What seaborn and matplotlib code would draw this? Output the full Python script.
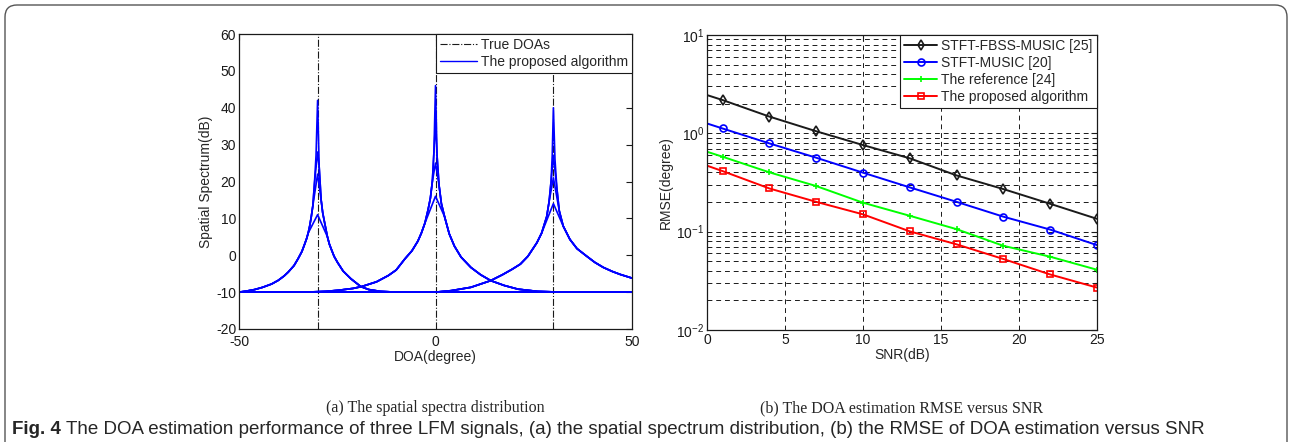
import matplotlib
matplotlib.use("Agg")
import matplotlib.pyplot as plt
from matplotlib.patches import FancyBboxPatch
import seaborn as sns
import pandas as pd

# (a) spatial spectra: one spectrum per source, several runs per source
true_doas = [-30, 0, 30]

a_doa = [-50, -48, -46, -44, -41.7, -40, -38.5, -37.5, -36, -35, -34, -33.3, -32.8, -32.4, -32, -31.6,
         -31.2, -30.8, -30.4, -29.6, -29.1, -28.7, -28.2, -27.5, -27, -26.5, -25.8, -24.9, -23.5, -21.5,
         -19, -17, -14, -10, 50]
a_db = [-10, -9.7, -9.3, -8.7, -7.8, -6.8, -5.6, -4.6, -2.8, -1, 1, 3, 4.5, 6, 8, 10.5,
        13.5, 19.5, 27, 24, 15, 11.5, 8.75, 5, 3, 1.6, -0.3, -2, -4.3, -6.4,
        -8.5, -9.3, -9.8, -10, -10]
a_peaks = [42, 28, 22, 11]

b_doa = [-50, -33, -28, -24.7, -21, -18.8, -15, -12, -10, -7.8, -6, -4.5, -3.6, -2.7, -1.9, -1.3,
         -0.8, -0.4, 0.4, 0.9, 1.5, 2.3, 3.5, 4.8, 6.5, 9, 11.5, 14.1, 17.5, 21, 26, 32, 50]
b_db = [-10, -10, -9.8, -9.5, -9, -8.5, -7.2, -5.5, -4, -1, 1.2, 3.8, 6, 8.7, 12.3, 15.5,
        20, 28, 27, 19, 14, 10.5, 5.8, 2.5, -0.5, -3.3, -5.3, -6.9, -8.2, -9.2, -9.8, -10, -10]
b_peaks = [46, 36, 25, 16]

c_doa = [-50, 0, 4, 9, 14, 17, 19.5, 21.6, 23.5, 25.8, 27, 28.3, 28.9, 29.4, 29.7,
         30.4, 30.9, 31.5, 32.5, 34.2, 36, 38.4, 40.5, 42.7, 45, 47, 50]
c_db = [-10, -10, -9.6, -8.7, -6.9, -5.3, -3.8, -2.4, -0.3, 3.4, 6, 10.5, 14.5, 20, 27,
        26, 18, 12, 7.9, 4.3, 1.8, -0.2, -1.9, -3.3, -4.4, -5.2, -6.2]
c_peaks = [40, 27, 21, 14]

# (b) RMSE versus SNR
snr = [0, 1, 4, 7, 10, 13, 16, 19, 22, 25]
rmse_fbss = [2.45, 2.18, 1.48, 1.05, 0.76, 0.557, 0.373, 0.271, 0.192, 0.135]
rmse_music = [1.26, 1.12, 0.79, 0.565, 0.398, 0.282, 0.201, 0.142, 0.105, 0.073]
rmse_ref = [0.65, 0.578, 0.401, 0.291, 0.197, 0.145, 0.106, 0.0718, 0.0556, 0.041]
rmse_prop = [0.469, 0.413, 0.275, 0.201, 0.15, 0.1007, 0.0743, 0.0527, 0.0367, 0.027]

sns.set_theme(style="white")
plt.rcParams['font.family'] = ['Liberation Sans', 'DejaVu Sans']
plt.rcParams['axes.unicode_minus'] = False
plt.rcParams['xtick.direction'] = 'in'
plt.rcParams['ytick.direction'] = 'in'

fig = plt.figure(figsize=(12.92, 4.42), dpi=100)
ax1 = fig.add_axes([239 / 1292, 1 - 329 / 442, 393 / 1292, 295 / 442])
ax2 = fig.add_axes([707 / 1292, 1 - 330 / 442, 390 / 1292, 295 / 442])

# build long table for the spectra; lower runs keep only the points below their own peak
rows = []
for src, (xs, ys, peaks, d0) in enumerate([(a_doa, a_db, a_peaks, -30),
                                            (b_doa, b_db, b_peaks, 0),
                                            (c_doa, c_db, c_peaks, 30)]):
    for k, pk in enumerate(peaks):
        pts = [(x, y) for x, y in zip(xs, ys) if y <= pk - 4] + [(d0, pk)]
        pts.sort()
        for xi, yi in pts:
            rows.append((f"{src}-{k}", xi, yi))
spec = pd.DataFrame(rows, columns=["run", "doa", "db"])

for d in true_doas:
    ax1.axvline(d, color="k", ls="-.", lw=0.8)
sns.lineplot(data=spec, x="doa", y="db", units="run", estimator=None, sort=False,
             color="#0000ff", lw=1.2, ax=ax1)
ax1.plot([], [], color="k", ls="-.", lw=0.8, label="True DOAs")
ax1.plot([], [], color="#0000ff", lw=1.0, label="The proposed algorithm")
ax1.set_xlim(-50, 50)
ax1.set_ylim(-20, 60)
ax1.set_xticks([-50, 0, 50])
ax1.set_yticks(range(-20, 61, 10))
ax1.set_xlabel("DOA(degree)", fontsize=10, labelpad=1)
ax1.set_ylabel("Spatial Spectrum(dB)", fontsize=10, labelpad=2)
leg1 = ax1.legend(loc="upper right", fontsize=10, frameon=True, fancybox=False,
                  edgecolor="k", framealpha=1, borderaxespad=0, handlelength=2.6,
                  borderpad=0.3, labelspacing=0.2, handletextpad=0.3)
leg1.get_frame().set_linewidth(0.8)

series = [
    (rmse_fbss, "k", "d", "STFT-FBSS-MUSIC [25]"),
    (rmse_music, "#0000ff", "o", "STFT-MUSIC [20]"),
    (rmse_ref, "#00ff00", "+", "The reference [24]"),
    (rmse_prop, "#ff0000", "s", "The proposed algorithm"),
]
for vals, col, mk, lab in series:
    sns.lineplot(x=snr, y=vals, color=col, marker=mk, markersize=5,
                 markerfacecolor="none", markeredgecolor=col, markeredgewidth=1.2,
                 markevery=slice(1, None), lw=1.4, label=lab, ax=ax2)
ax2.set_yscale("log")
ax2.set_xlim(0, 25)
ax2.set_ylim(1e-2, 1e1)
ax2.set_xticks([0, 5, 10, 15, 20, 25])
ax2.grid(True, which="both", axis="y", color="k", ls=(0, (5, 4)), lw=0.7)
ax2.grid(True, which="major", axis="x", color="k", ls=(0, (5, 4)), lw=0.7)
ax2.set_xlabel("SNR(dB)", fontsize=10, labelpad=1)
ax2.set_ylabel("RMSE(degree)", fontsize=10, labelpad=2)
leg2 = ax2.legend(loc="upper right", fontsize=10, frameon=True, fancybox=False,
                  edgecolor="k", framealpha=1, borderaxespad=0, handlelength=2.4,
                  borderpad=0.3, labelspacing=0.2, handletextpad=0.3)
leg2.get_frame().set_linewidth(0.8)

for ax in (ax1, ax2):
    ax.tick_params(which="both", top=True, right=True, labelsize=10, colors="k",
                   length=4, width=0.8, pad=2)
    ax.tick_params(which="minor", length=2)
    for s in ax.spines.values():
        s.set_color("k")
        s.set_linewidth(0.9)
ax1.tick_params(axis="x", pad=4)

fig.text(435 / 1292, 1 - 408 / 442, "(a) The spatial spectra distribution",
         family=["Liberation Serif", "DejaVu Serif"], fontsize=11.5, ha="center", va="center")
fig.text(902 / 1292, 1 - 408 / 442, "(b) The DOA estimation RMSE versus SNR",
         family=["Liberation Serif", "DejaVu Serif"], fontsize=11.5, ha="center", va="center")

fig.text(12 / 1292, 1 - 429 / 442, "Fig. 4", fontsize=13.5, fontweight="bold",
         ha="left", va="center")
fig.text(66 / 1292, 1 - 429 / 442,
         "The DOA estimation performance of three LFM signals, (a) the spatial spectrum distribution, "
         "(b) the RMSE of DOA estimation versus SNR",
         fontsize=13.5, ha="left", va="center")

frame = FancyBboxPatch((0.05, -0.2), 12.82, 4.57, boxstyle="round,pad=0,rounding_size=0.12",
                       transform=fig.dpi_scale_trans, fill=False, edgecolor="#555555", lw=1.0)
fig.patches.append(frame)

fig.savefig("out.png", dpi=100)
